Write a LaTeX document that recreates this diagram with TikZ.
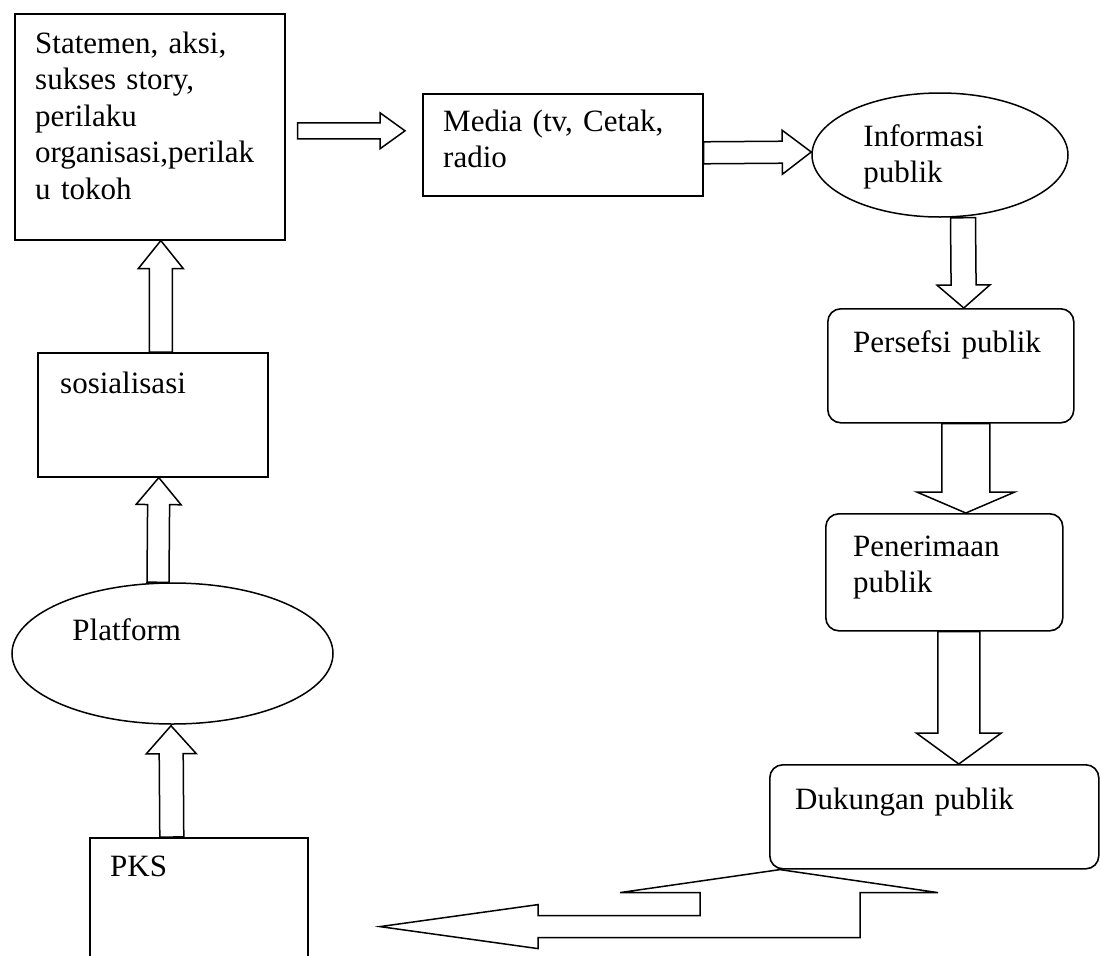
\documentclass[tikz,border=0pt]{standalone}
\usepackage{fontspec}
\setmainfont{Liberation Serif}
\usepackage{tikz}
\usetikzlibrary{calc}
\usetikzlibrary{shapes.geometric}
\usetikzlibrary{positioning}

\tikzset{
    box/.style={draw, line width=1.6pt, inner sep=0pt, anchor=north west},
    rbox/.style={box, rounded corners=13pt},
    oval/.style={draw, ellipse, line width=1.5pt, inner sep=0pt},
    txt/.style={anchor=base west, inner sep=0pt, align=left, text width=#1,
        font=\fontsize{31pt}{36.5pt}\selectfont},
    txt/.default=320pt,
    outline/.style={draw, line width=1.5pt, line join=miter}
}

% hollow block arrow: start, tip, half shaft, half head, head length
\newcommand{\blockarr}[5]{
    \coordinate (ba-s) at (#1);
    \coordinate (ba-e) at (#2);
    \coordinate (ba-h) at ($(ba-e)!#5!(ba-s)$);
    \draw[outline] ($(ba-s)!#3!90:(ba-e)$) -- ($(ba-h)!#3!-90:(ba-s)$)
        -- ($(ba-h)!#4!-90:(ba-s)$) -- (ba-e) -- ($(ba-h)!#4!90:(ba-s)$)
        -- ($(ba-h)!#3!90:(ba-s)$) -- ($(ba-s)!#3!-90:(ba-e)$) -- cycle;
}

\begin{document}
\begin{tikzpicture}[x=1pt, y=-1pt]
    \path[use as bounding box, clip] (0,0) rectangle (1101,956);

    % left column
    \node[box, minimum width=270pt, minimum height=226pt] (stmt) at (14,13) {};
    \node[box, minimum width=230pt, minimum height=124pt] (sos) at (37,352) {};
    \node[oval, minimum width=321pt, minimum height=141pt] (plat) at (172.5,653.5) {};
    \node[box, minimum width=218pt, minimum height=140pt] (pks) at (89,837) {};

    % top row and right column
    \node[box, minimum width=280pt, minimum height=102pt] (media) at (422,93) {};
    \node[oval, minimum width=256pt, minimum height=124pt] (info) at (940,155) {};
    \node[rbox, minimum width=246pt, minimum height=114pt] (pers) at (827,308) {};
    \node[rbox, minimum width=237pt, minimum height=117pt] (pen) at (825,513) {};
    \node[rbox, minimum width=329pt, minimum height=104pt] (duk) at (769,764) {};

    % texts
    \node[txt] (stmt-t) at ($(stmt.north west)+(21,40)$)
        {Statemen, aksi,\\sukses story,\\perilaku\\organisasi,perilak\\u tokoh};
    \node[txt] (sos-t) at ($(sos.north west)+(23,41)$) {sosialisasi};
    \node[txt] (plat-t) at ($(plat.west)+(61,-13.5)$) {Platform};
    \node[txt] (pks-t) at ($(pks.north west)+(21,39)$) {PKS};
    \node[txt] (media-t) at ($(media.north west)+(21,38)$) {Media (tv, Cetak,\\radio};
    \node[txt] (info-t) at ($(info.west)+(52,-9)$) {Informasi\\publik};
    \node[txt] (pers-t) at ($(pers.north west)+(26,44)$) {Persefsi publik};
    \node[txt] (pen-t) at ($(pen.north west)+(28,43)$) {Penerimaan\\publik};
    \node[txt] (duk-t) at ($(duk.north west)+(26,45)$) {Dukungan publik};

    % block arrows
    \blockarr{$(pks.north)+(-27,0)$}{$(plat.south)+(-1.5,1)$}{12pt}{25pt}{28pt}
    \blockarr{$(plat.north)+(-14.5,0)$}{$(sos.south)+(6,0)$}{11pt}{22.5pt}{27pt}
    \blockarr{$(sos.north)+(8,0)$}{$(stmt.south)+(11,0)$}{11.5pt}{22.5pt}{28pt}
    \blockarr{$(stmt.east)+(12,4)$}{$(media.west)+(-17,-14)$}{8pt}{18pt}{25pt}
    \blockarr{$(media.east)+(0,8)$}{$(info.west)+(0,-3)$}{11pt}{22pt}{29pt}
    \blockarr{$(info.south)+(23,0)$}{$(pers.north)+(13,0)$}{12.5pt}{26.5pt}{23pt}
    \blockarr{$(pers.south)+(15,0)$}{$(pen.north)+(21.5,0)$}{24pt}{49pt}{21pt}
    \blockarr{$(pen.south)+(14.5,0)$}{$(duk.north)+(24.5,0)$}{21pt}{42.5pt}{31pt}

    % return arrow from Dukungan publik
    \coordinate (ret) at ($(duk.south west)+(11,0)$);
    \draw[outline] (ret) -- ++(-160,23) -- ++(80,0) -- ++(0,23) -- ++(-162,0)
        -- ++(0,-11) -- ++(-158,22) coordinate (ret-tip) -- ++(158,22) -- ++(0,-11)
        -- ++(322,0) -- ++(0,-45) -- ++(78,0) -- cycle;
\end{tikzpicture}
\end{document}
